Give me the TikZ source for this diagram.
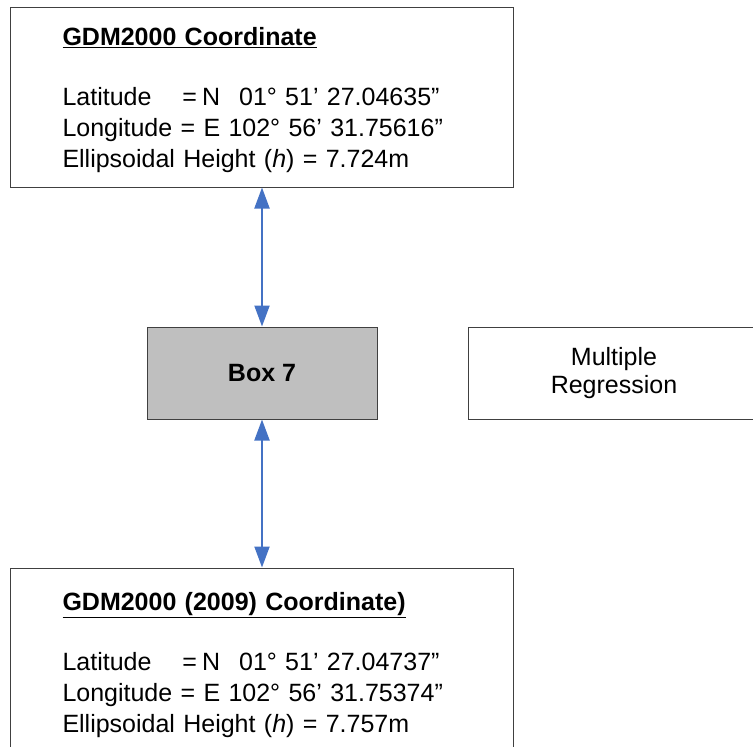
\documentclass[tikz,border=0pt]{standalone}
\usepackage{fontspec}
\setmainfont{Liberation Sans}
\usetikzlibrary{arrows.meta}

\definecolor{linkblue}{HTML}{4472C4}
\definecolor{boxgrey}{HTML}{BFBFBF}
\definecolor{edgegrey}{HTML}{404040}

\newcommand{\latlabel}{\makebox[120pt][l]{Latitude}=\hspace{5pt}N\hspace{19pt}}

\tikzset{
    coordbox/.style={draw=edgegrey, line width=1pt, align=left, text width=399pt,
        inner xsep=52pt, minimum height=180pt, font=\fontsize{25}{31}\selectfont},
    plainbox/.style={draw=edgegrey, line width=1pt, align=center, minimum height=92pt,
        font=\fontsize{25}{31}\selectfont},
    link/.style={linkblue, line width=2pt,
        {Triangle[width=15pt,length=21pt]}-{Triangle[width=15pt,length=21pt]}}
}

\begin{document}
\begin{tikzpicture}[x=1pt, y=-1pt]
    \useasboundingbox (0,0) rectangle (753,747);

    % GDM2000 coordinate (top)
    \node[coordbox] (gdm) at (262,97) {\rule{0pt}{24pt}\underline{\textbf{GDM2000 Coordinate}}\\[29pt]
        \latlabel 01° 51’ 27.04635”\\
        Longitude = E 102° 56’ 31.75616”\\
        Ellipsoidal Height (\textit{h}) = 7.724m};

    % Box 7 and the method beside it
    \node[plainbox, fill=boxgrey, minimum width=230pt, font=\fontsize{25}{31}\selectfont\bfseries] (box7) at (262,373) {Box 7};
    \node[plainbox, minimum width=292pt] (regr) at (614,373) {\raisebox{-3pt}{\shortstack{Multiple\\[2pt]Regression}}};

    % GDM2000 (2009) coordinate (bottom)
    \node[coordbox, minimum height=187pt] (gdm09) at (262,661.5) {\rule{0pt}{26pt}\underline{\textbf{GDM2000 (2009) Coordinate)}}\\[29pt]
        \latlabel 01° 51’ 27.04737”\\
        Longitude = E 102° 56’ 31.75374”\\
        Ellipsoidal Height (\textit{h}) = 7.757m};

    % links
    \draw[link] (gdm) -- (box7);
    \draw[link] (box7) -- (gdm09);

\end{tikzpicture}
\end{document}
